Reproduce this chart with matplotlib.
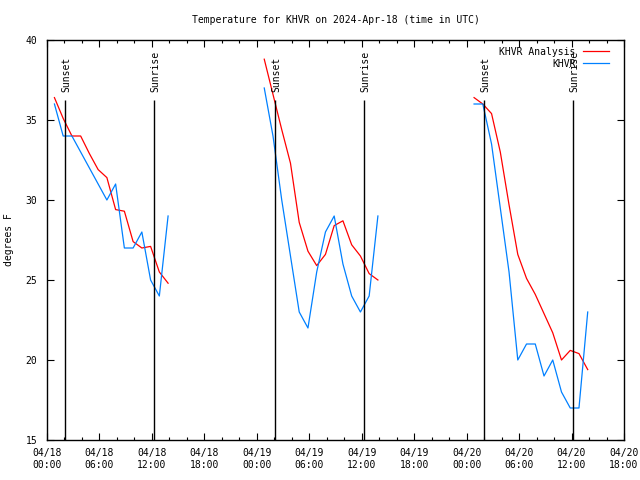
import matplotlib
matplotlib.use('Agg')
import matplotlib.pyplot as plt
from matplotlib.ticker import MultipleLocator

plt.rcParams['font.family'] = ['DejaVu Sans Mono']
plt.rcParams['font.size'] = 7

# times are hours after 04/18 00:00 UTC
hours1 = [0.85, 1.85, 2.85, 3.85, 4.85, 5.85, 6.85, 7.85, 8.85, 9.85, 10.85, 11.85, 12.85, 13.85]
hours2 = [24.85, 25.85, 26.85, 27.85, 28.85, 29.85, 30.85, 31.85, 32.85, 33.85, 34.85, 35.85, 36.85, 37.85]
hours3 = [48.85, 49.85, 50.85, 51.85, 52.85, 53.85, 54.85, 55.85, 56.85, 57.85, 58.85, 59.85, 60.85, 61.85]

analysis1 = [36.4, 35.1, 34.0, 34.0, 32.9, 31.9, 31.4, 29.4, 29.3, 27.4, 27.0, 27.1, 25.5, 24.8]
analysis2 = [38.8, 36.6, 34.4, 32.3, 28.6, 26.8, 25.9, 26.6, 28.4, 28.7, 27.2, 26.5, 25.4, 25.0]
analysis3 = [36.4, 36.0, 35.4, 33.0, 29.7, 26.6, 25.1, 24.1, 22.9, 21.7, 20.0, 20.6, 20.4, 19.4]

obs1 = [36, 34, 34, 33, 32, 31, 30, 31, 27, 27, 28, 25, 24, 29]
obs2 = [37, 34, 30, 26.5, 23, 22, 25.5, 28, 29, 26, 24, 23, 24, 29]
obs3 = [36, 36, 33.5, 29.5, 25.5, 20, 21, 21, 19, 20, 18, 17, 17, 23]

sun_times = [2.05, 12.27, 26.04, 36.24, 50.02, 60.21]
sun_names = ['Sunset', 'Sunrise', 'Sunset', 'Sunrise', 'Sunset', 'Sunrise']

tick_hours = [0, 6, 12, 18, 24, 30, 36, 42, 48, 54, 60, 66]
tick_labels = ['04/18\n00:00', '04/18\n06:00', '04/18\n12:00', '04/18\n18:00',
               '04/19\n00:00', '04/19\n06:00', '04/19\n12:00', '04/19\n18:00',
               '04/20\n00:00', '04/20\n06:00', '04/20\n12:00', '04/20\n18:00']

fig = plt.figure(figsize=(6.4, 4.8), dpi=100)
ax = fig.add_axes([47 / 640, 40 / 480, 577 / 640, 400 / 480])

red = '#ff0000'
blue = '#0080ff'
for i, (h, a, o) in enumerate([(hours1, analysis1, obs1), (hours2, analysis2, obs2), (hours3, analysis3, obs3)]):
    ax.plot(h, a, color=red, lw=0.9, label='KHVR Analysis' if i == 0 else None)
    ax.plot(h, o, color=blue, lw=0.9, label='KHVR' if i == 0 else None)

for t, name in zip(sun_times, sun_names):
    ax.vlines(t, 15, 36.25, color='black', lw=1.0)
    ax.text(t + 0.15, 36.75, name, rotation=90, ha='center', va='bottom')

ax.set_xlim(0, 66)
ax.set_ylim(15, 40)
ax.set_xticks(tick_hours)
ax.set_xticklabels(tick_labels)
ax.xaxis.set_minor_locator(MultipleLocator(2))
ax.set_yticks([15, 20, 25, 30, 35, 40])
ax.tick_params(which='both', direction='in', top=True, right=True, width=0.8)
ax.tick_params(which='major', length=5, pad=6)
ax.tick_params(which='minor', length=2.5)
ax.tick_params(axis='y', pad=7)

for s in ax.spines.values():
    s.set_linewidth(1.0)

ax.set_title('Temperature for KHVR on 2024-Apr-18 (time in UTC)', fontsize=7, pad=12)
ax.set_ylabel('degrees F')
ax.yaxis.set_label_coords(-0.058, 0.5)

ax.legend(loc='upper right', bbox_to_anchor=(0.985, 1.0), frameon=False, markerfirst=False,
          handlelength=2.6, labelspacing=0.2, borderaxespad=0.3, handletextpad=0.8)

fig.savefig('out.png', dpi=100)
